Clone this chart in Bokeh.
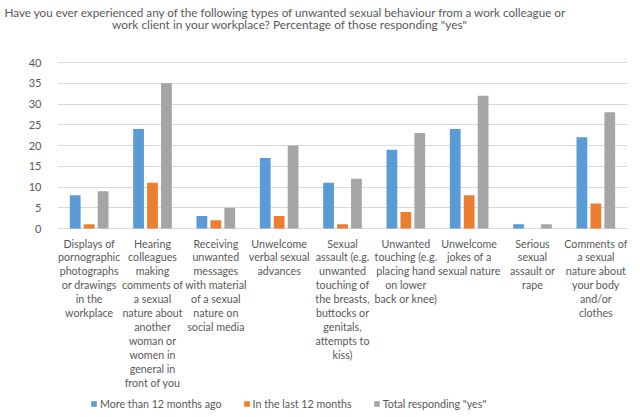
from bokeh.plotting import figure
from bokeh.models import (Range1d, Legend, LegendItem, FixedTicker, ColumnDataSource, Title)
from bokeh.core.properties import value
from bokeh.transform import dodge
from bokeh.embed import file_html
from bokeh.resources import INLINE

categories = [
    "Displays of\npornographic\nphotographs\nor drawings\nin the\nworkplace",
    "Hearing\ncolleagues\nmaking\ncomments of\na sexual\nnature about\nanother\nwoman or\nwomen in\ngeneral in\nfront of you",
    "Receiving\nunwanted\nmessages\nwith material\nof a sexual\nnature on\nsocial media",
    "Unwelcome\nverbal sexual\nadvances",
    "Sexual\nassault (e.g.\nunwanted\ntouching of\nthe breasts,\nbuttocks or\ngenitals,\nattempts to\nkiss)",
    "Unwanted\ntouching (e.g.\nplacing hand\non lower\nback or knee)",
    "Unwelcome\njokes of a\nsexual nature",
    "Serious\nsexual\nassault or\nrape",
    "Comments of\na sexual\nnature about\nyour body\nand/or\nclothes",
]
more_than_12 = [8, 24, 3, 17, 11, 19, 24, 1, 22]
last_12 = [1, 11, 2, 3, 1, 4, 8, 0, 6]
total_yes = [9, 35, 5, 20, 12, 23, 32, 1, 28]
series_names = ["More than 12 months ago", "In the last 12 months", 'Total responding "yes"']
y_ticks = [0, 5, 10, 15, 20, 25, 30, 35, 40]
title_lines = [
    "Have you ever experienced any of the following types of unwanted sexual behaviour from a work colleague or",
    'work client in your workplace? Percentage of those responding "yes"',
]

FONT = "Lato"
TXT = "#595959"
colors = ["#5B9BD5", "#ED7D31", "#A5A5A5"]

# canvas geometry (the page has no margin with Bokeh's template)
W, H = 640, 417
TOP, LEFT, RIGHT = 18, 57, 13
Y40_PX, Y0_PX = 62, 228
YMAX = 40
px_per_unit = (Y0_PX - Y40_PX) / YMAX
y_end = YMAX + (Y40_PX - TOP) / px_per_unit
y_start = -(H - Y0_PX) / px_per_unit
label_y = -8 / px_per_unit
sub_y = YMAX + (Y40_PX - 24) / px_per_unit
n = len(categories)
px_per_cat = (W - LEFT - RIGHT) / n
sub_x = (289.5 - LEFT) / px_per_cat

pos = [i + 0.5 for i in range(n)]
src = ColumnDataSource(dict(x=pos, a=more_than_12, b=last_12, c=total_yes))

p = figure(x_range=Range1d(0, n), y_range=Range1d(y_start, y_end),
           width=W, height=H, x_axis_location=None,
           min_border_left=LEFT, min_border_right=RIGHT, min_border_top=TOP, min_border_bottom=0,
           output_backend="svg", toolbar_location=None, title=None)
p.outline_line_color = None
p.background_fill_color = "white"

r = []
for key, off, col in zip(["a", "b", "c"], [-0.22, 0.0, 0.22], colors):
    r.append(p.vbar(x=dodge("x", off), top=key, bottom=0, width=0.17,
                    source=src, fill_color=col, line_color=None))

p.xgrid.grid_line_color = None
p.ygrid.grid_line_color = "#D9D9D9"
p.ygrid.ticker = FixedTicker(ticks=y_ticks)

p.yaxis.ticker = FixedTicker(ticks=y_ticks)
p.yaxis.axis_line_color = None
p.yaxis.major_tick_line_color = None
p.yaxis.minor_tick_line_color = None
p.yaxis.major_label_standoff = 10
p.yaxis.major_label_text_font = FONT
p.yaxis.major_label_text_font_size = "11px"
p.yaxis.major_label_text_color = TXT

p.text(x=pos, y=[label_y] * n, text=categories, text_align="center",
       text_baseline="top", text_font=value(FONT), text_font_size="10.7px",
       text_color=TXT, text_line_height=1.07)

# title: first line as a Title, second line inside the plot area
p.add_layout(Title(text=title_lines[0], align="left", offset=-53, standoff=0,
                   text_font=FONT, text_font_size="11.7px", text_font_style="normal",
                   text_color=TXT), "above")
p.text(x=[sub_x], y=[sub_y], text=[title_lines[1]], text_align="center",
       text_baseline="middle", text_font=value(FONT), text_font_size="11.9px",
       text_color=TXT)

legend = Legend(items=[LegendItem(label=nm, renderers=[rr]) for nm, rr in zip(series_names, r)],
                orientation="horizontal", location=(33, 7),
                glyph_width=7, glyph_height=7, label_standoff=3, spacing=21,
                label_text_font=FONT, label_text_font_size="10.7px", label_text_color=TXT,
                border_line_color=None, background_fill_alpha=0, padding=2, margin=0,
                label_height=14)
p.add_layout(legend, "center")

open("out.html", "w").write(file_html(p, INLINE))
